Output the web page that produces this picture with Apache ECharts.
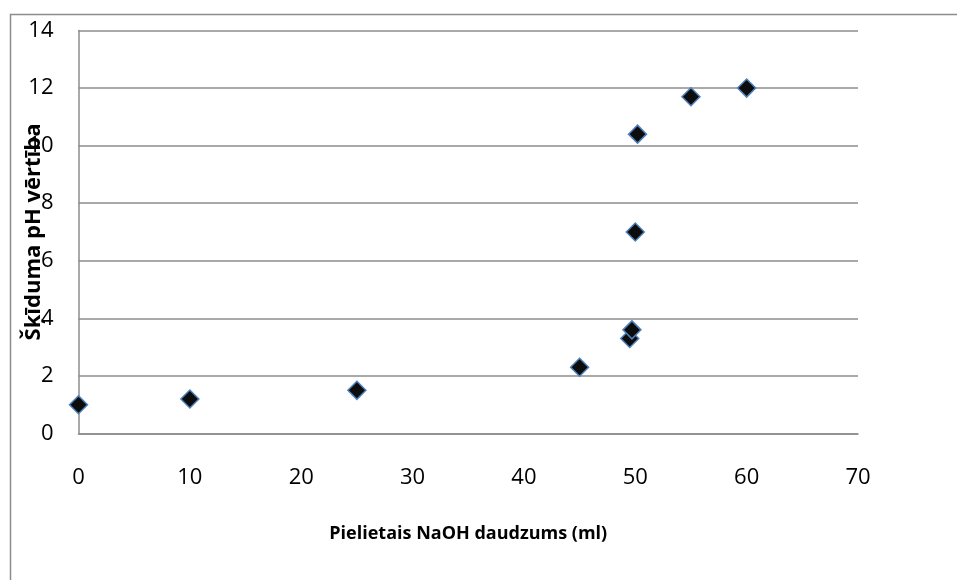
<!DOCTYPE html>
<html><head><meta charset="utf-8">
<script src="https://cdn.jsdelivr.net/npm/echarts@6/dist/echarts.min.js"></script>
<style>html,body{margin:0;padding:0;background:#fff}#c{width:957px;height:580px}</style>
</head><body><div id="c"></div>
<script>
const naohMl = [0, 10, 25, 45, 49.5, 49.7, 50, 50.2, 55, 60];
const phValues = [1.0, 1.2, 1.5, 2.3, 3.3, 3.6, 7.0, 10.4, 11.7, 12.0];
const xTitle = 'Pielietais NaOH daudzums (ml)';
const yTitle = 'Šķīduma pH vērtība';

const font = '"Open Sans", "Liberation Sans", sans-serif';
const chart = echarts.init(document.getElementById('c'), null, {renderer: 'canvas'});
chart.setOption({
  animation: false,
  graphic: [{type: 'rect', shape: {x: 10.5, y: 14.5, width: 1200, height: 900}, style: {fill: 'none', stroke: '#8c8c8c', lineWidth: 1.5}, z: -1}],
  grid: {left: 78.5, top: 30.5, right: 957 - 858, bottom: 580 - 433.5, containLabel: false, outerBoundsMode: 'none'},
  xAxis: {
    type: 'value', min: 0, max: 70, interval: 10,
    name: xTitle, nameLocation: 'middle', nameGap: 91, nameMoveOverlap: false,
    nameTextStyle: {fontFamily: font, fontSize: 18, fontWeight: 'bold', color: '#000'},
    axisLine: {lineStyle: {color: '#8c8c8c', width: 1.5}},
    axisTick: {show: false},
    splitLine: {show: false},
    axisLabel: {fontFamily: font, fontSize: 22, color: '#000', margin: 33}
  },
  yAxis: {
    type: 'value', min: 0, max: 14, interval: 2,
    name: yTitle, nameLocation: 'middle', nameGap: 34, nameRotate: 90, nameMoveOverlap: false,
    nameTextStyle: {fontFamily: font, fontSize: 22, fontWeight: 'bold', color: '#000'},
    axisLine: {show: true, lineStyle: {color: '#8c8c8c', width: 1.5}},
    axisTick: {show: false},
    splitLine: {lineStyle: {color: '#8c8c8c', width: 1.5}},
    axisLabel: {fontFamily: font, fontSize: 22, color: '#000', margin: 25}
  },
  series: [{
    type: 'scatter',
    data: naohMl.map((x, i) => [x, phValues[i]]),
    symbol: 'diamond', symbolSize: 18,
    itemStyle: {color: '#0d0d0d', borderColor: '#4f81bd', borderWidth: 1.5, opacity: 1}
  }]
});
</script></body></html>
